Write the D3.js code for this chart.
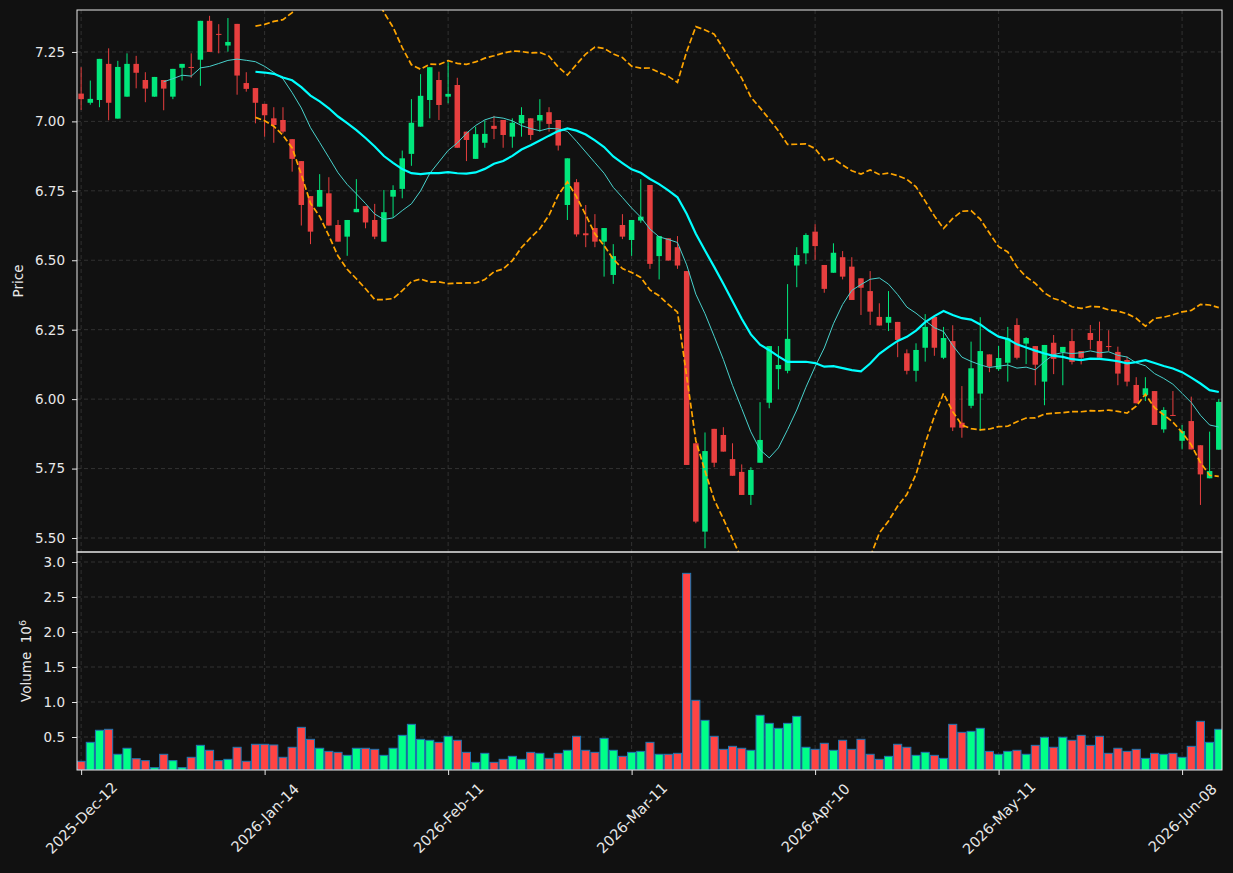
<!DOCTYPE html>
<html>
<head>
<meta charset="utf-8">
<script src="https://cdn.jsdelivr.net/npm/d3@7"></script>
<style>
  html, body { margin: 0; padding: 0; background: #111111; }
  svg text { font-family: "DejaVu Sans", sans-serif; }
</style>
</head>
<body>
<div id="chart"></div>
<script>
// tick labels sit on every 20th session
const tickIndex = [0, 20, 40, 60, 80, 100, 120];
const tickLabels = ["2025-Dec-12", "2026-Jan-14", "2026-Feb-11", "2026-Mar-11", "2026-Apr-10", "2026-May-11", "2026-Jun-08"];

const opens = [
    7.100, 7.067, 7.077, 7.207, 7.010, 7.089, 7.207, 7.149, 7.089, 7.149,
    7.089, 7.193, 7.196, 7.222, 7.362, 7.315, 7.273, 7.351, 7.138, 7.120,
    7.063, 7.011, 7.005, 6.936, 6.857, 6.731, 6.693, 6.741, 6.627, 6.585,
    6.673, 6.695, 6.645, 6.567, 6.729, 6.757, 6.883, 6.981, 7.077, 7.149,
    7.089, 7.131, 6.963, 6.865, 6.923, 6.984, 7.005, 6.945, 6.993, 7.011,
    7.003, 7.033, 7.005, 6.699, 6.781, 6.597, 6.616, 6.567, 6.447, 6.627,
    6.573, 6.643, 6.771, 6.515, 6.579, 6.547, 6.461, 5.841, 5.523, 5.893,
    5.871, 5.784, 5.738, 5.655, 5.771, 5.987, 6.108, 6.102, 6.481, 6.525,
    6.603, 6.483, 6.455, 6.511, 6.477, 6.435, 6.389, 6.296, 6.275, 6.278,
    6.165, 6.102, 6.185, 6.296, 6.149, 6.209, 5.915, 5.976, 6.020, 6.161,
    6.108, 6.131, 6.267, 6.200, 6.191, 6.063, 6.203, 6.169, 6.209, 6.173,
    6.238, 6.209, 6.191, 6.170, 6.141, 6.051, 6.015, 6.029, 5.891, 5.943,
    5.850, 5.921, 5.834, 5.715, 5.818
];
const highs = [
    7.195, 7.147, 7.225, 7.263, 7.218, 7.245, 7.236, 7.177, 7.160, 7.149,
    7.189, 7.207, 7.245, 7.362, 7.380, 7.350, 7.372, 7.351, 7.177, 7.120,
    7.063, 7.051, 7.051, 6.936, 6.857, 6.731, 6.810, 6.799, 6.645, 6.645,
    6.792, 6.695, 6.703, 6.753, 6.770, 6.895, 7.080, 7.170, 7.195, 7.179,
    7.213, 7.157, 6.963, 6.981, 7.003, 7.020, 7.005, 7.011, 7.051, 7.011,
    7.080, 7.051, 7.005, 6.867, 6.792, 6.699, 6.666, 6.616, 6.558, 6.666,
    6.645, 6.792, 6.771, 6.587, 6.579, 6.587, 6.461, 5.841, 5.880, 5.893,
    5.899, 5.841, 5.765, 5.755, 5.989, 6.191, 6.191, 6.414, 6.547, 6.597,
    6.630, 6.483, 6.561, 6.533, 6.511, 6.435, 6.461, 6.345, 6.389, 6.278,
    6.179, 6.201, 6.306, 6.296, 6.260, 6.266, 6.047, 6.207, 6.295, 6.161,
    6.192, 6.260, 6.291, 6.223, 6.191, 6.195, 6.231, 6.188, 6.253, 6.173,
    6.267, 6.279, 6.248, 6.189, 6.153, 6.079, 6.079, 6.029, 5.971, 6.029,
    5.907, 6.009, 5.834, 5.883, 6.000
];
const lows = [
    7.041, 7.060, 7.051, 7.004, 7.010, 7.089, 7.119, 7.069, 7.089, 7.040,
    7.080, 7.147, 7.157, 7.128, 7.250, 7.245, 7.251, 7.096, 7.107, 6.993,
    6.945, 6.923, 6.957, 6.819, 6.625, 6.558, 6.693, 6.625, 6.567, 6.516,
    6.673, 6.615, 6.576, 6.567, 6.655, 6.723, 6.840, 6.981, 7.011, 7.005,
    7.065, 6.905, 6.857, 6.865, 6.905, 6.936, 6.905, 6.905, 6.945, 6.933,
    6.963, 6.963, 6.895, 6.645, 6.585, 6.547, 6.547, 6.441, 6.415, 6.576,
    6.516, 6.635, 6.469, 6.431, 6.499, 6.469, 5.763, 5.553, 5.463, 5.755,
    5.811, 5.724, 5.655, 5.619, 5.771, 5.967, 6.035, 6.093, 6.403, 6.486,
    6.501, 6.383, 6.455, 6.431, 6.357, 6.303, 6.267, 6.265, 6.245, 6.151,
    6.089, 6.063, 6.135, 6.156, 6.144, 5.885, 5.861, 5.967, 5.885, 6.097,
    6.102, 6.063, 6.143, 6.126, 6.050, 5.978, 6.090, 6.050, 6.125, 6.125,
    6.179, 6.149, 6.173, 6.050, 6.046, 5.985, 5.993, 5.907, 5.879, 5.939,
    5.819, 5.819, 5.619, 5.715, 5.818
];
const closes = [
    7.080, 7.081, 7.225, 7.067, 7.196, 7.207, 7.175, 7.118, 7.160, 7.118,
    7.189, 7.207, 7.193, 7.362, 7.250, 7.312, 7.286, 7.165, 7.117, 7.067,
    7.022, 6.987, 6.963, 6.865, 6.699, 6.603, 6.753, 6.625, 6.567, 6.645,
    6.685, 6.636, 6.585, 6.673, 6.753, 6.867, 6.995, 7.092, 7.195, 7.059,
    7.099, 6.905, 6.933, 6.954, 6.955, 6.973, 6.951, 6.995, 7.023, 6.951,
    7.023, 6.991, 6.913, 6.867, 6.593, 6.590, 6.567, 6.616, 6.515, 6.585,
    6.645, 6.657, 6.487, 6.587, 6.499, 6.481, 5.763, 5.559, 5.813, 5.771,
    5.811, 5.724, 5.655, 5.745, 5.853, 6.191, 6.123, 6.217, 6.519, 6.591,
    6.551, 6.397, 6.527, 6.441, 6.357, 6.401, 6.315, 6.265, 6.296, 6.213,
    6.102, 6.177, 6.260, 6.185, 6.220, 5.898, 5.897, 6.111, 6.173, 6.117,
    6.148, 6.219, 6.149, 6.220, 6.124, 6.195, 6.145, 6.188, 6.134, 6.149,
    6.213, 6.149, 6.188, 6.092, 6.063, 5.985, 6.039, 5.907, 5.961, 5.940,
    5.885, 5.819, 5.729, 5.741, 5.990
];
// volume in millions
const volumes = [
    0.153, 0.424, 0.596, 0.610, 0.253, 0.339, 0.190, 0.162, 0.062, 0.253,
    0.162, 0.062, 0.210, 0.381, 0.310, 0.162, 0.181, 0.353, 0.153, 0.396,
    0.396, 0.386, 0.210, 0.353, 0.638, 0.467, 0.339, 0.295, 0.281, 0.238,
    0.339, 0.339, 0.324, 0.238, 0.339, 0.524, 0.681, 0.467, 0.453, 0.424,
    0.510, 0.453, 0.281, 0.138, 0.267, 0.138, 0.181, 0.224, 0.181, 0.281,
    0.267, 0.195, 0.267, 0.310, 0.510, 0.310, 0.281, 0.481, 0.310, 0.224,
    0.281, 0.295, 0.424, 0.253, 0.253, 0.267, 2.838, 1.024, 0.738, 0.510,
    0.324, 0.367, 0.339, 0.310, 0.810, 0.695, 0.624, 0.695, 0.795, 0.353,
    0.324, 0.410, 0.310, 0.453, 0.324, 0.467, 0.253, 0.181, 0.224, 0.396,
    0.353, 0.238, 0.281, 0.238, 0.195, 0.681, 0.567, 0.581, 0.624, 0.295,
    0.253, 0.295, 0.310, 0.253, 0.381, 0.496, 0.353, 0.496, 0.453, 0.524,
    0.381, 0.510, 0.267, 0.339, 0.295, 0.324, 0.195, 0.267, 0.253, 0.267,
    0.210, 0.367, 0.724, 0.424, 0.610
];

const priceTicks = [5.50, 5.75, 6.00, 6.25, 6.50, 6.75, 7.00, 7.25];
const volumeTicks = [0.5, 1.0, 1.5, 2.0, 2.5, 3.0];

const UP = "#00ff88", DOWN = "#ff4444";
const GRID = "#3a3a3a", FG = "#e8e8e8";

function rolling(values, n, fn) {
    return values.map((v, i) => i < n - 1 ? null : fn(values.slice(i - n + 1, i + 1)));
}

function main() {
    const width = 1233, height = 873;
    const left = 77, right = 1222, top = 10, split = 552, bottom = 770;
    const n = closes.length;

    const svg = d3.select("#chart").append("svg")
        .attr("width", width)
        .attr("height", height)
        .style("background", "#111111");

    const x = d3.scaleLinear().domain([-0.45, n - 1 + 0.35]).range([left, right]);
    const yPrice = d3.scaleLinear().domain([5.4496, 7.401]).range([split, top]);
    const yVol = d3.scaleLinear().domain([0.0286, 3.143]).range([bottom, split]);
    const step = x(1) - x(0);

    svg.append("clipPath").attr("id", "clip-price")
        .append("rect").attr("x", left).attr("y", top).attr("width", right - left).attr("height", split - top);
    svg.append("clipPath").attr("id", "clip-vol")
        .append("rect").attr("x", left).attr("y", split).attr("width", right - left).attr("height", bottom - split);

    // grid
    const grid = svg.append("g")
        .attr("stroke", GRID)
        .attr("stroke-width", 0.8)
        .attr("stroke-dasharray", "4,3");
    grid.selectAll(".gy").data(priceTicks).enter().append("line")
        .attr("x1", left).attr("x2", right)
        .attr("y1", d => yPrice(d)).attr("y2", d => yPrice(d));
    grid.selectAll(".gv").data(volumeTicks).enter().append("line")
        .attr("x1", left).attr("x2", right)
        .attr("y1", d => yVol(d)).attr("y2", d => yVol(d));
    grid.selectAll(".gx").data(tickIndex).enter().append("line")
        .attr("x1", d => x(d)).attr("x2", d => x(d))
        .attr("y1", top).attr("y2", bottom);

    // candles
    const candles = svg.append("g").attr("clip-path", "url(#clip-price)").attr("opacity", 0.9);
    const idx = d3.range(n);
    const colorOf = i => closes[i] >= opens[i] ? UP : DOWN;
    candles.selectAll(".wick").data(idx).enter().append("line")
        .attr("x1", i => x(i)).attr("x2", i => x(i))
        .attr("y1", i => yPrice(highs[i])).attr("y2", i => yPrice(lows[i]))
        .attr("stroke", colorOf)
        .attr("stroke-width", 1);
    const bodyW = step * 0.6;
    candles.selectAll(".body").data(idx).enter().append("rect")
        .attr("x", i => x(i) - bodyW / 2)
        .attr("width", bodyW)
        .attr("y", i => yPrice(Math.max(opens[i], closes[i])))
        .attr("height", i => Math.max(1, Math.abs(yPrice(opens[i]) - yPrice(closes[i]))))
        .attr("fill", colorOf);

    // indicators
    const ma10 = rolling(closes, 10, d3.mean);
    const ma20 = rolling(closes, 20, d3.mean);
    const sd20 = rolling(closes, 20, d3.deviation);
    const upper = ma20.map((m, i) => m == null ? null : m + 2 * sd20[i]);
    const lower = ma20.map((m, i) => m == null ? null : m - 2 * sd20[i]);

    const line = d3.line()
        .defined(d => d != null)
        .x((d, i) => x(i))
        .y(d => yPrice(d));

    const lines = svg.append("g").attr("clip-path", "url(#clip-price)").attr("fill", "none");
    lines.append("path").attr("d", line(upper))
        .attr("stroke", "#ffa500").attr("stroke-width", 1.7).attr("stroke-dasharray", "6,2.7");
    lines.append("path").attr("d", line(lower))
        .attr("stroke", "#ffa500").attr("stroke-width", 1.7).attr("stroke-dasharray", "6,2.7");
    lines.append("path").attr("d", line(ma10))
        .attr("stroke", "#48d1cc").attr("stroke-width", 1);
    lines.append("path").attr("d", line(ma20))
        .attr("stroke", "#00ffff").attr("stroke-width", 2.2);

    // volume bars
    const barW = step * 0.88;
    svg.append("g").attr("clip-path", "url(#clip-vol)")
        .selectAll("rect").data(idx).enter().append("rect")
        .attr("x", i => x(i) - barW / 2)
        .attr("width", barW)
        .attr("y", i => yVol(volumes[i]))
        .attr("height", i => yVol.range()[0] - yVol(volumes[i]))
        .attr("fill", colorOf)
        .attr("stroke", "#1f77b4")
        .attr("stroke-width", 1);

    // axes
    const styleAxis = g => {
        g.select(".domain").remove();
        g.selectAll(".tick line").attr("stroke", FG);
        g.selectAll(".tick text").attr("fill", FG).style("font-size", "13.5px");
    };
    svg.append("g")
        .attr("transform", "translate(" + left + ",0)")
        .call(d3.axisLeft(yPrice).tickValues(priceTicks).tickFormat(d3.format(".2f")).tickSize(5).tickPadding(7))
        .call(styleAxis);
    svg.append("g")
        .attr("transform", "translate(" + left + ",0)")
        .call(d3.axisLeft(yVol).tickValues(volumeTicks).tickFormat(d3.format(".1f")).tickSize(5).tickPadding(7))
        .call(styleAxis);
    const xAxis = svg.append("g")
        .attr("transform", "translate(0," + bottom + ")")
        .call(d3.axisBottom(x).tickValues(tickIndex).tickFormat((d, i) => tickLabels[i]).tickSize(5))
        .call(styleAxis);
    xAxis.selectAll(".tick text")
        .style("font-size", "14.5px")
        .attr("text-anchor", "middle")
        .attr("dominant-baseline", "central")
        .attr("y", 0).attr("dy", null)
        .attr("transform", "translate(0,48) rotate(-45)");

    // frames
    svg.append("rect").attr("x", left).attr("y", top).attr("width", right - left).attr("height", split - top)
        .attr("fill", "none").attr("stroke", FG).attr("stroke-width", 1);
    svg.append("rect").attr("x", left).attr("y", split).attr("width", right - left).attr("height", bottom - split)
        .attr("fill", "none").attr("stroke", FG).attr("stroke-width", 1);

    // axis titles
    svg.append("text")
        .attr("transform", "translate(23," + ((top + split) / 2) + ") rotate(-90)")
        .attr("text-anchor", "middle")
        .attr("fill", FG)
        .style("font-size", "13.5px")
        .text("Price");
    const vt = svg.append("text")
        .attr("transform", "translate(31," + ((split + bottom) / 2) + ") rotate(-90)")
        .attr("text-anchor", "middle")
        .attr("fill", FG)
        .style("font-size", "13.5px")
        .style("white-space", "pre");
    vt.append("tspan").text("Volume  10");
    vt.append("tspan").attr("baseline-shift", "super").style("font-size", "9.5px").text("6");
}

main();
</script>
</body>
</html>
